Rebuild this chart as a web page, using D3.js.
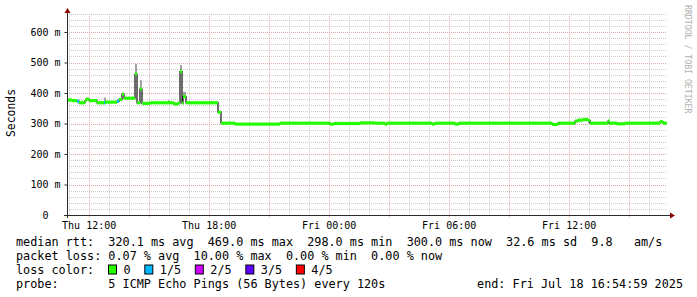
<!DOCTYPE html>
<html>
<head>
<meta charset="utf-8">
<script src="https://cdn.jsdelivr.net/npm/d3@7"></script>
<style>
  body { margin: 0; background: #fff; }
  svg text { font-family: "DejaVu Sans Mono", monospace; fill: #000; }
</style>
</head>
<body>
<script>
// median rtt as steps: start of each step, median (ms), lost pings out of 5
const stepTimes = [
  "2025-07-17 10:55", "2025-07-17 11:10", "2025-07-17 11:25", "2025-07-17 11:31",
  "2025-07-17 11:49", "2025-07-17 11:52", "2025-07-17 12:01", "2025-07-17 12:25",
  "2025-07-17 12:46", "2025-07-17 12:49", "2025-07-17 13:25", "2025-07-17 13:31",
  "2025-07-17 13:40", "2025-07-17 13:46", "2025-07-17 14:19", "2025-07-17 14:25",
  "2025-07-17 14:34", "2025-07-17 14:40", "2025-07-17 15:04", "2025-07-17 16:16",
  "2025-07-17 16:28", "2025-07-17 16:34", "2025-07-17 16:40", "2025-07-17 16:43",
  "2025-07-17 16:52", "2025-07-17 18:28", "2025-07-17 18:37", "2025-07-17 19:19",
  "2025-07-17 21:34", "2025-07-18 00:04", "2025-07-18 00:16", "2025-07-18 01:34",
  "2025-07-18 02:19", "2025-07-18 02:49", "2025-07-18 02:55", "2025-07-18 05:10",
  "2025-07-18 05:19", "2025-07-18 06:19", "2025-07-18 06:31", "2025-07-18 11:10",
  "2025-07-18 11:28", "2025-07-18 12:19", "2025-07-18 12:28", "2025-07-18 12:43",
  "2025-07-18 12:58", "2025-07-18 13:04", "2025-07-18 13:58", "2025-07-18 14:01",
  "2025-07-18 14:25", "2025-07-18 14:49", "2025-07-18 16:34", "2025-07-18 16:43"
];
const stepMedian = [
  377, 375, 373, 368,
  375, 380, 375, 368,
  368, 370, 373, 379,
  396, 383, 462, 368,
  413, 366, 368, 364,
  367, 470, 367, 388,
  368, 337, 301, 298,
  301, 298, 300, 302,
  301, 298, 301, 298,
  301, 298, 301, 297,
  301, 308, 311, 313,
  310, 301, 308, 301,
  299, 301, 306, 301
];
const stepLoss = [
  0, 0, 1, 0,
  0, 0, 0, 0,
  1, 0, 1, 0,
  0, 0, 0, 0,
  0, 0, 0, 0,
  0, 0, 0, 0,
  0, 0, 0, 0,
  0, 0, 0, 0,
  0, 0, 0, 0,
  0, 0, 0, 0,
  0, 0, 0, 0,
  0, 0, 0, 0,
  0, 0, 0, 0
];
const startTime = "2025-07-17 10:55";
const endTime = "2025-07-18 16:55";

// smoke (spread of the pings) where it shows above the median
const smokeStart = ["2025-07-17 12:46", "2025-07-17 14:19", "2025-07-17 14:34", "2025-07-17 15:58", "2025-07-17 16:34", "2025-07-17 16:43", "2025-07-18 12:58"];
const smokeEnd   = ["2025-07-17 12:52", "2025-07-17 14:25", "2025-07-17 14:40", "2025-07-17 16:01", "2025-07-17 16:40", "2025-07-17 16:52", "2025-07-18 13:04"];
const smokeLow   = [368, 462, 413, 367, 470, 388, 301];
const smokeHigh  = [385, 495, 442, 377, 492, 404, 310];

const yTicks = [0, 100, 200, 300, 400, 500, 600];
const lossLabels = ["0", "1/5", "2/5", "3/5", "4/5"];
const lossColors = ["#26ff00", "#00b8ff", "#d000ff", "#5e00ff", "#ff0000"];

const legendLines = [
  "median rtt:  320.1 ms avg  469.0 ms max  298.0 ms min  300.0 ms now  32.6 ms sd  9.8   am/s",
  "packet loss: 0.07 % avg  10.00 % max  0.00 % min  0.00 % now",
  "loss color:",
  "probe:       5 ICMP Echo Pings (56 Bytes) every 120s"
];
const endLabel = "end: Fri Jul 18 16:54:59 2025";

function drawChart() {
  const W = 697, H = 297;
  const left = 67, right = 667, bottom = 215;
  const parse = d3.timeParse("%Y-%m-%d %H:%M");

  const svg = d3.select("body").append("svg")
    .attr("width", W)
    .attr("height", H);

  svg.append("rect").attr("width", W).attr("height", H).attr("fill", "#fff");

  const x = d3.scaleTime()
    .domain([parse(startTime), parse(endTime)])
    .range([left, right]);

  const y = d3.scaleLinear()
    .domain([0, 660])
    .range([bottom, bottom - 660 * 0.305]);

  const top = y(660);
  const px = v => Math.round(v) + 0.5;

  // grid: minor 20 ms / 1 hour, major 100 ms / 3 hours
  const grid = svg.append("g").attr("stroke-dasharray", "1,1").attr("stroke-width", 1);
  d3.range(20, 661, 20).forEach(v => {
    grid.append("line")
      .attr("x1", left).attr("x2", right)
      .attr("y1", px(y(v))).attr("y2", px(y(v)))
      .attr("stroke", v % 100 === 0 ? "#e0a8a8" : "#cccccc");
  });
  x.ticks(d3.timeHour.every(1)).forEach(t => {
    const major = t.getHours() % 3 === 0;
    grid.append("line")
      .attr("x1", px(x(t))).attr("x2", px(x(t)))
      .attr("y1", top).attr("y2", major ? bottom + 3 : bottom)
      .attr("stroke", major ? "#e0a8a8" : "#cccccc");
  });

  // smoke
  smokeStart.forEach((s, i) => {
    svg.append("rect")
      .attr("x", x(parse(s)))
      .attr("width", x(parse(smokeEnd[i])) - x(parse(s)))
      .attr("y", y(smokeHigh[i]))
      .attr("height", y(smokeLow[i]) - y(smokeHigh[i]))
      .attr("fill", "#a0a0a0");
  });

  const steps = stepTimes.map((t, i) => ({
    t0: parse(t),
    t1: parse(i + 1 < stepTimes.length ? stepTimes[i + 1] : endTime),
    v: stepMedian[i],
    loss: stepLoss[i]
  }));

  // dark median line
  const pts = steps.map(s => [x(s.t0), y(s.v)]);
  pts.push([x(parse(endTime)) - 1, y(steps[steps.length - 1].v)]);
  svg.append("path")
    .attr("d", d3.line().curve(d3.curveStepAfter)(pts))
    .attr("fill", "none")
    .attr("stroke", "#202020")
    .attr("stroke-width", 1.3);

  // loss-coloured band on the median
  svg.selectAll("rect.band")
    .data(steps)
    .enter()
    .append("rect")
    .attr("class", "band")
    .attr("x", d => x(d.t0))
    .attr("width", d => Math.max(1.5, x(d.t1) - x(d.t0)))
    .attr("y", d => y(d.v) - 1.6)
    .attr("height", 3.2)
    .attr("fill", d => lossColors[d.loss]);

  // y axis
  const yAxis = svg.append("g")
    .attr("transform", `translate(${left + 0.5},0)`)
    .call(d3.axisLeft(y).tickValues(yTicks).tickSize(3).tickPadding(4)
      .tickFormat(d => d === 0 ? "0  " : d + " m"));
  yAxis.select(".domain").remove();
  yAxis.selectAll("line").attr("stroke", "#2c2c2c");
  yAxis.selectAll("text")
    .attr("xml:space", "preserve")
    .style("white-space", "pre")
    .style("font-size", "10px")
    .style("font-family", "DejaVu Sans Mono");

  // x axis
  const xAxis = svg.append("g")
    .attr("transform", `translate(0,${bottom + 0.5})`)
    .call(d3.axisBottom(x).ticks(d3.timeHour.every(6)).tickSize(0).tickPadding(6)
      .tickFormat(d3.timeFormat("%a %H:%M")));
  xAxis.select(".domain").remove();
  xAxis.selectAll("text")
    .style("font-size", "10px")
    .style("font-family", "DejaVu Sans Mono");

  // axis lines with arrows
  svg.append("line")
    .attr("x1", left + 0.5).attr("x2", left + 0.5)
    .attr("y1", bottom + 3).attr("y2", 10)
    .attr("stroke", "#2c2c2c");
  svg.append("line")
    .attr("x1", left - 3).attr("x2", 671)
    .attr("y1", bottom + 0.5).attr("y2", bottom + 0.5)
    .attr("stroke", "#2c2c2c");
  svg.append("path")
    .attr("d", `M${left - 2.5},13 L${left + 3.5},13 L${left + 0.5},8 Z`)
    .attr("fill", "#8b0000");
  svg.append("path")
    .attr("d", `M670,${bottom - 2.5} L670,${bottom + 3.5} L675,${bottom + 0.5} Z`)
    .attr("fill", "#8b0000");

  // vertical label and watermark
  svg.append("text")
    .attr("transform", "translate(15,113) rotate(-90)")
    .attr("text-anchor", "middle")
    .style("font-size", "11.4px")
    .text("Seconds");

  svg.append("text")
    .attr("transform", "translate(685,5) rotate(90)")
    .style("font-size", "8.2px")
    .style("fill", "#b0b0b0")
    .text("RRDTOOL / TOBI OETIKER");

  // legend
  const lineY = [245.5, 259.5, 273.5, 287.5];
  const legend = svg.append("g").style("font-size", "11.8px");
  legendLines.forEach((txt, i) => {
    legend.append("text")
      .attr("x", 16)
      .attr("y", lineY[i])
      .attr("xml:space", "preserve")
      .style("white-space", "pre")
      .text(txt);
  });
  legend.append("text")
    .attr("x", 683)
    .attr("y", lineY[3])
    .attr("text-anchor", "end")
    .text(endLabel);

  let bx = 108.5;
  lossLabels.forEach((lab, i) => {
    legend.append("rect")
      .attr("x", bx).attr("y", lineY[2] - 8.5)
      .attr("width", 8).attr("height", 9)
      .attr("fill", lossColors[i])
      .attr("stroke", "#000")
      .attr("stroke-width", 1);
    const t = legend.append("text")
      .attr("x", bx + 15)
      .attr("y", lineY[2])
      .text(lab);
    bx += 15 + t.node().getComputedTextLength() + 14.2;
  });
}

window.onload = () => {
  drawChart();
};
</script>
</body>
</html>
